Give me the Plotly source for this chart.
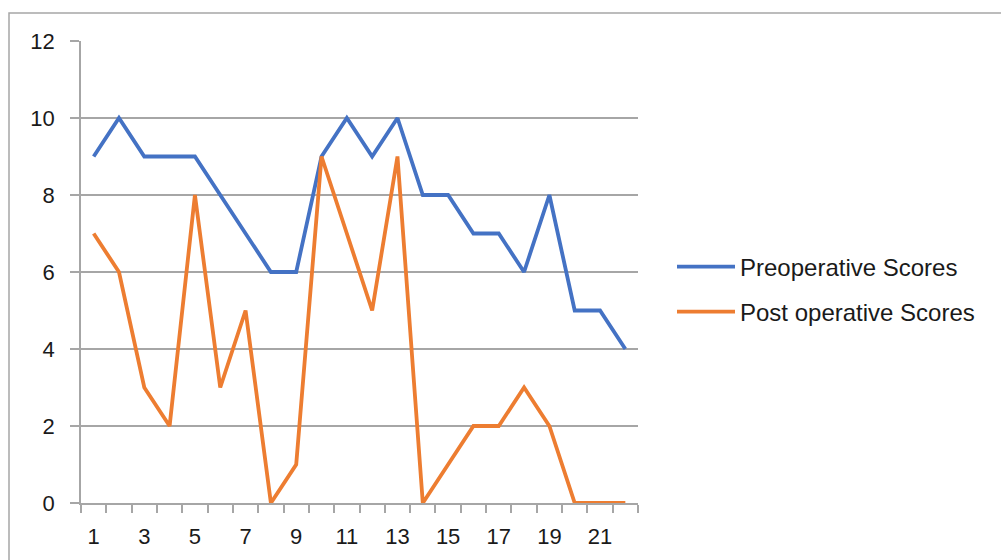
import plotly.graph_objects as go

patients = list(range(1, 23))
pre_scores = [9, 10, 9, 9, 9, 8, 7, 6, 6, 9, 10, 9, 10, 8, 8, 7, 7, 6, 8, 5, 5, 4]
post_scores = [7, 6, 3, 2, 8, 3, 5, 0, 1, 9, 7, 5, 9, 0, 1, 2, 2, 3, 2, 0, 0, 0]
x_tick_labels = [str(v) for v in range(1, 23, 2)]
y_ticks = list(range(0, 13, 2))

FONT = "Liberation Sans"
TXT = "#1a1a1a"
GRID = "#a6a6a6"

fig = go.Figure()
fig.add_trace(go.Scatter(x=patients, y=pre_scores, mode="lines", name="Preoperative Scores",
                         line=dict(color="#4472C4", width=3.8), cliponaxis=False, legend="legend"))
fig.add_trace(go.Scatter(x=patients, y=post_scores, mode="lines", name="Post operative Scores",
                         line=dict(color="#ED7D31", width=3.8), cliponaxis=False, legend="legend2"))

L, R, T, B = 81, 1001 - 638, 41, 560 - 503
W = 1001 - L - R
H = 560 - T - B

LEG_X = (672 - L) / W
fig.update_layout(
    width=1001, height=560,
    margin=dict(l=L, r=R, t=T, b=B),
    paper_bgcolor="white", plot_bgcolor="white",
    font=dict(family=FONT, color=TXT, size=22),
    showlegend=True,
    legend=dict(x=LEG_X, y=(503 - 267) / H, xanchor="left", yanchor="middle", itemwidth=58,
                font=dict(size=24, family=FONT, color=TXT), bgcolor="rgba(0,0,0,0)"),
    legend2=dict(x=LEG_X, y=(503 - 312) / H, xanchor="left", yanchor="middle", itemwidth=58,
                 font=dict(size=24, family=FONT, color=TXT), bgcolor="rgba(0,0,0,0)"),
    xaxis=dict(range=[0.5, 22.5], tickvals=list(range(1, 23, 2)), ticktext=x_tick_labels,
               ticks="", showgrid=False, showline=True, linecolor=GRID, linewidth=1.5,
               zeroline=False, ticklabelstandoff=13, tickfont=dict(size=22),
               minor=dict(tick0=0.5, dtick=1, ticks="outside", ticklen=8, tickcolor=GRID,
                          tickwidth=1.5, showgrid=False)),
    yaxis=dict(range=[0, 12], tickvals=y_ticks, showgrid=True, gridcolor=GRID, gridwidth=1.5,
               showline=True, linecolor=GRID, linewidth=1.5, zeroline=False,
               ticks="outside", ticklen=9, tickcolor=GRID, tickwidth=1.5,
               ticklabelstandoff=11, tickfont=dict(size=22)),
)

# chart-area frame (extends past the right and bottom edges of the picture)
fig.add_shape(type="rect", xref="paper", yref="paper",
              x0=(9 - L) / W, x1=(1100 - L) / W, y0=(503 - 700) / H, y1=(503 - 13) / H,
              line=dict(color="#a6a6a6", width=1.5), fillcolor="rgba(0,0,0,0)", layer="below")

fig.write_html("out.html")
